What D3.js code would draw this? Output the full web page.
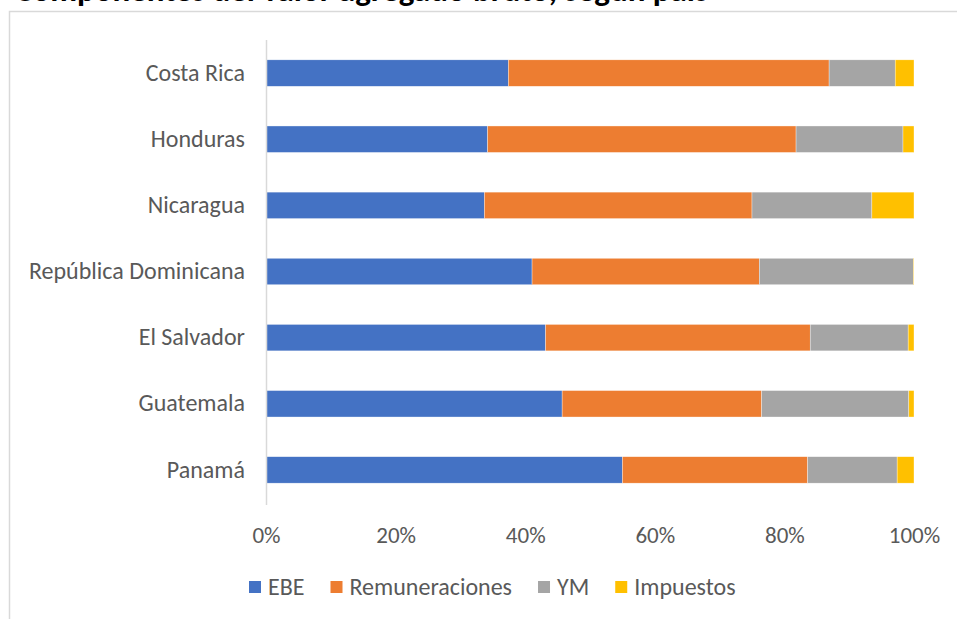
<!DOCTYPE html>
<html>
<head>
<meta charset="utf-8">
<script src="https://cdn.jsdelivr.net/npm/d3@7"></script>
<style>
  html, body { margin: 0; padding: 0; background: #fff; overflow: hidden; }
  svg { display: block; font-family: Carlito, Lato, "Liberation Sans", sans-serif; }
</style>
</head>
<body>
<svg id="chart" width="957" height="619"></svg>
<script>
// ---- data ----
const title = "Componentes del valor agregado bruto, según país";
const countries = ["Costa Rica", "Honduras", "Nicaragua", "República Dominicana", "El Salvador", "Guatemala", "Panamá"];
const seriesNames = ["EBE", "Remuneraciones", "YM", "Impuestos"];
const ebe            = [37.4, 34.2, 33.7, 41.1, 43.1, 45.7, 55.0];
const remuneraciones = [49.5, 47.6, 41.3, 35.1, 40.8, 30.8, 28.6];
const ym             = [10.2, 16.5, 18.5, 23.8, 15.1, 22.7, 13.8];
const impuestos      = [ 2.9,  1.7,  6.5,  0.1,  0.9,  0.8,  2.6];
const xTicks = [0, 0.2, 0.4, 0.6, 0.8, 1.0];
const colors = ["#4472C4", "#ED7D31", "#A5A5A5", "#FFC000"];

const rows = countries.map((c, i) => ({
  country: c,
  EBE: ebe[i], Remuneraciones: remuneraciones[i], YM: ym[i], Impuestos: impuestos[i]
}));

const svg = d3.select("#chart");

// frame
svg.append("rect")
  .attr("x", 9.5).attr("y", 11.5).attr("width", 960).attr("height", 640)
  .attr("fill", "none").attr("stroke", "#d9d9d9").attr("stroke-width", 1.5);

// title (mostly above the visible area, as in the reference)
svg.append("text")
  .attr("x", 15).attr("y", 1)
  .attr("font-size", 33).attr("font-weight", "bold").attr("fill", "#000")
  .text(title);

const x = d3.scaleLinear().domain([0, 1]).range([266, 914]);
const y = d3.scaleBand().domain(countries).range([40, 503]).paddingInner(0.6).paddingOuter(0.3);

const stack = d3.stack().keys(seriesNames).offset(d3.stackOffsetExpand);
const stacked = stack(rows);
const color = d3.scaleOrdinal().domain(seriesNames).range(colors);

svg.append("g").selectAll("g")
  .data(stacked).join("g")
  .attr("fill", d => color(d.key))
  .selectAll("rect")
  .data(d => d).join("rect")
  .attr("x", d => x(d[0]))
  .attr("width", d => Math.max(0, x(d[1]) - x(d[0])))
  .attr("y", d => y(d.data.country))
  .attr("height", y.bandwidth())
  .attr("stroke", "#ffffff").attr("stroke-width", 0.5).attr("stroke-opacity", 0.7);

// vertical axis line
svg.append("line")
  .attr("x1", 266.5).attr("x2", 266.5).attr("y1", 40).attr("y2", 505)
  .attr("stroke", "#d9d9d9").attr("stroke-width", 1.5);

// y axis labels
const yAxis = d3.axisLeft(y).tickSize(0).tickPadding(21);
const gy = svg.append("g").attr("transform", "translate(266,0)").call(yAxis);
gy.select(".domain").remove();
gy.selectAll("text").attr("font-size", 24).attr("fill", "#595959").attr("font-family", "Carlito, Lato, sans-serif");

// x axis labels
const xAxis = d3.axisBottom(x).tickValues(xTicks).tickFormat(d3.format(".0%")).tickSize(0).tickPadding(0);
const gx = svg.append("g").attr("transform", "translate(0,527)").call(xAxis);
gx.select(".domain").remove();
gx.selectAll("text").attr("font-size", 23).attr("fill", "#595959").attr("font-family", "Carlito, Lato, sans-serif");

// legend
const legend = svg.append("g").attr("transform", "translate(249,587)");
let cursor = 0;
seriesNames.forEach(name => {
  const g = legend.append("g").attr("transform", `translate(${cursor},0)`);
  g.append("rect").attr("x", 0).attr("y", -6).attr("width", 12).attr("height", 12).attr("fill", color(name));
  const t = g.append("text").attr("x", 19).attr("y", 0).attr("dy", "0.35em")
    .attr("font-size", 24).attr("fill", "#595959").text(name);
  cursor += 19 + t.node().getComputedTextLength() + 26;
});
</script>
</body>
</html>
